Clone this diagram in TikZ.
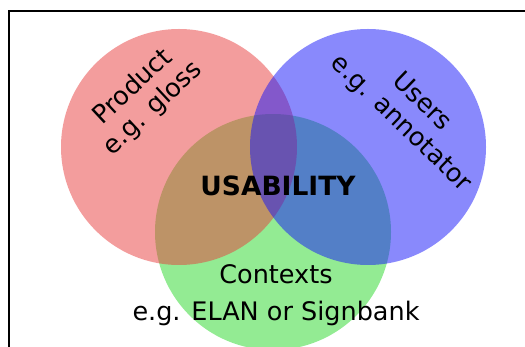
\documentclass[tikz,border=0pt]{standalone}
\usepackage{fontspec}
\setmainfont{DejaVu Sans}
\usepackage{tikz}

\definecolor{prodred}{RGB}{232,60,60}
\definecolor{userblue}{RGB}{20,20,250}
\definecolor{ctxgreen}{RGB}{40,215,40}

\begin{document}
\begin{tikzpicture}[x=1pt,y=-1pt,
                    set node/.style={circle,minimum size=236pt,inner sep=0pt,fill opacity=0.5},
                    label node/.style={font=\fontsize{25.5}{37}\selectfont,align=center}]

  \useasboundingbox (0,0) rectangle (525,347);
  \draw[line width=1.5pt] (9,360) -- (9,11) -- (540,11);

  % the three sets
  \node[set node,fill=ctxgreen] (contexts) at (273,232) {};
  \node[set node,fill=prodred] (product) at (179,147) {};
  \node[set node,fill=userblue] (users) at (368,147) {};

  % labels
  \node[label node,rotate=43,font=\fontsize{25.5}{29}\selectfont] (productlabel) at (143,98) {Product\\e.g. gloss};
  \node[label node,rotate=-44,font=\fontsize{25.5}{30}\selectfont] (userslabel) at (411,113) {Users\\e.g. annotator};
  \node[label node] (contextslabel) at (276,295) {Contexts\\e.g. ELAN or Signbank};
  \node[font=\fontsize{26.5}{30}\selectfont\bfseries] (usability) at (278,186) {USABILITY};
\end{tikzpicture}
\end{document}
